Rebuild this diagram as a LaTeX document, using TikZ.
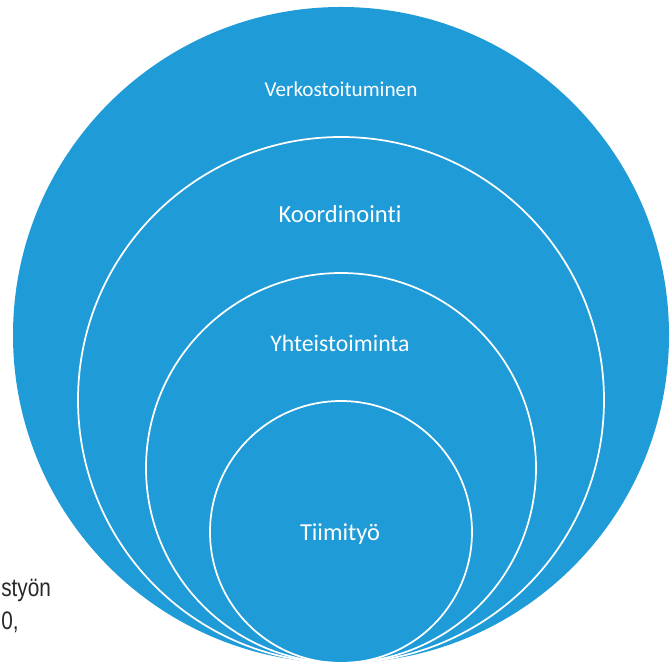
\documentclass[tikz,border=0pt]{standalone}
\usepackage{fontspec}
\setmainfont{Carlito}[Ligatures={NoCommon}]
\newfontfamily\narrowfont[FakeStretch=0.82]{Liberation Sans}
\usepackage{xcolor}
\usepackage{tikz}
\definecolor{ringblue}{RGB}{31,155,215}
\definecolor{sidegray}{RGB}{40,40,40}

\begin{document}
\begin{tikzpicture}[x=0.75pt,y=0.75pt,
    ring/.style={draw=white,line width=1.3pt},
    ringlabel/.style={anchor=base,text=white,inner sep=0pt},
    sidetext/.style={anchor=base west,text=sidegray,inner sep=0pt,font=\narrowfont\fontsize{19}{22}\selectfont}]
        \useasboundingbox (0,0) rectangle (671,666);
        \coordinate (base) at (341,3);
        \fill[ringblue] (base) ++(0,328) circle[radius=328];
        \foreach \r in {263,195,131}
          \draw[ring] (base) ++(0,\r) circle[radius=\r];
        \node[ringlabel,font=\fontsize{15.9}{18}\selectfont] (verk) at (341,569) {Verkostoituminen};
        \node[ringlabel,font=\fontsize{18.4}{22}\selectfont] (koord) at (340,443) {Koordinointi};
        \node[ringlabel,font=\fontsize{17.8}{22}\selectfont] (yhteis) at (340,314) {Yhteistoiminta};
        \node[ringlabel,font=\fontsize{18.3}{22}\selectfont] (tiimi) at (340,125) {Tiimityö};
        \node[sidetext] (styon) at (1,69) {styön};
        \node[sidetext] (nolla) at (1,36) {0,};
      \end{tikzpicture}
\end{document}
